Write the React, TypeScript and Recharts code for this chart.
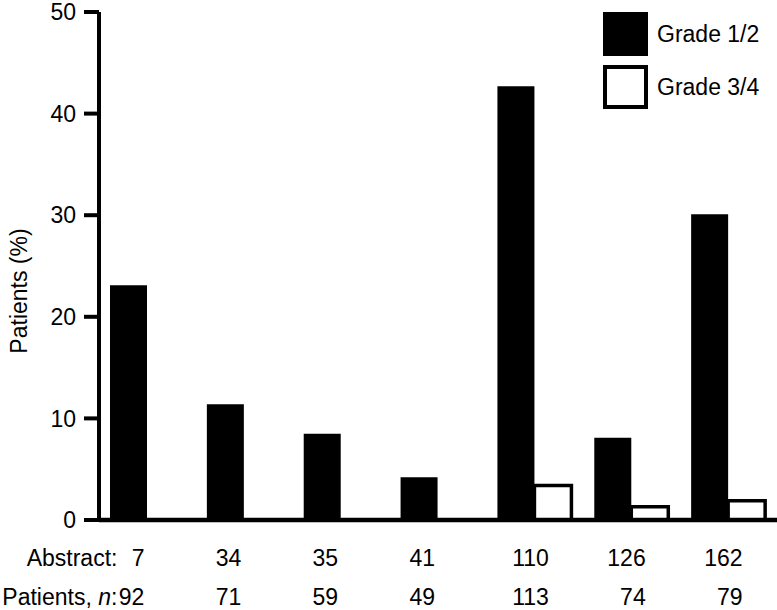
import { BarChart, Bar, XAxis, YAxis, Legend } from 'recharts';

const abstracts = ['7', '34', '35', '41', '110', '126', '162'];
const patientsN = ['92', '71', '59', '49', '113', '74', '79'];
const grade12 = [23.1, 11.4, 8.5, 4.2, 42.7, 8.1, 30.1];
const grade34 = [0, 0, 0, 0, 3.4, 1.3, 1.9];
const yTicks = [0, 10, 20, 30, 40, 50];

const data = abstracts.map((a, i) => ({
  abstract: a,
  n: patientsN[i],
  g12: grade12[i],
  g34: grade34[i],
}));

const FONT = '"Liberation Sans", Arial, Helvetica, sans-serif';

interface TickProps {
  x?: number;
  y?: number;
  index?: number;
  payload?: { value: string; index: number };
}

function CategoryTick({ x = 0, y = 0, payload, index }: TickProps) {
  const i = payload?.index ?? index ?? 0;
  const top = abstracts[i];
  const bottom = patientsN[i];
  // right-align both rows; wider labels sit further right like the original
  const maxLen = Math.max(top.length, bottom.length);
  const right = x + 17 * maxLen - 37;
  return (
    <g fontSize={23} fill="#000" fontFamily={FONT}>
      {i === 0 && (
        <text x={right - 27} y={y + 46} textAnchor="end">Abstract:</text>
      )}
      <text x={right} y={y + 46} textAnchor="end">{top}</text>
      {i === 0 && (
        <text x={right - 27} y={y + 85} textAnchor="end">
          Patients, <tspan fontStyle="italic">n</tspan>:
        </text>
      )}
      <text x={right} y={y + 85} textAnchor="end">{bottom}</text>
    </g>
  );
}

interface LegendEntry {
  value: string;
  color?: string;
}

function BoxLegend({ payload }: { payload?: LegendEntry[] }) {
  if (!payload) return null;
  return (
    <div style={{ position: 'relative', width: 170, height: 100, fontFamily: FONT, fontSize: 23 }}>
      {payload.map((p, i) => (
        <div key={p.value} style={{ position: 'absolute', left: 0, top: i * 53, height: 44, display: 'flex', alignItems: 'center' }}>
          <div
            style={{
              width: 45,
              height: 44,
              boxSizing: 'border-box',
              background: i === 0 ? '#000' : '#fff',
              border: i === 0 ? 'none' : '4px solid #000',
            }}
          />
          <span style={{ marginLeft: 9, color: '#000' }}>{p.value}</span>
        </div>
      ))}
    </div>
  );
}

export default function App() {
  return (
    <div style={{ position: 'absolute', left: 0, top: 0, background: '#fff' }}>
      <BarChart
        width={777}
        height={610}
        data={data}
        margin={{ top: 12, right: 0, bottom: 0, left: 0 }}
        barGap={0}
        style={{ fontFamily: FONT }}
      >
        <XAxis
          dataKey="abstract"
          height={90}
          interval={0}
          tickSize={0}
          tickMargin={0}
          tickLine={false}
          axisLine={{ stroke: '#000', strokeWidth: 4.5 }}
          tick={<CategoryTick />}
        />
        <YAxis
          domain={[0, 50]}
          ticks={yTicks}
          interval={0}
          width={99}
          tickSize={15}
          tickMargin={8}
          axisLine={{ stroke: '#000', strokeWidth: 4 }}
          tickLine={{ stroke: '#000', strokeWidth: 4 }}
          tick={{ fill: '#000', fontSize: 23 }}
          label={{
            content: () => (
              <text
                x={27}
                y={291}
                transform="rotate(-90, 27, 291)"
                textAnchor="middle"
                fontSize={23}
                fill="#000"
              >
                Patients (%)
              </text>
            ),
          }}
        />
        <Legend
          layout="vertical"
          align="center"
          verticalAlign="middle"
          content={<BoxLegend />}
          wrapperStyle={{ position: 'absolute', top: 12, left: 603, width: 170 }}
        />
        <Bar dataKey="g12" name="Grade 1/2" fill="#000" barSize={37} isAnimationActive={false} />
        <Bar
          dataKey="g34"
          name="Grade 3/4"
          fill="#fff"
          stroke="#000"
          strokeWidth={3.5}
          barSize={37}
          isAnimationActive={false}
        />
      </BarChart>
    </div>
  );
}
